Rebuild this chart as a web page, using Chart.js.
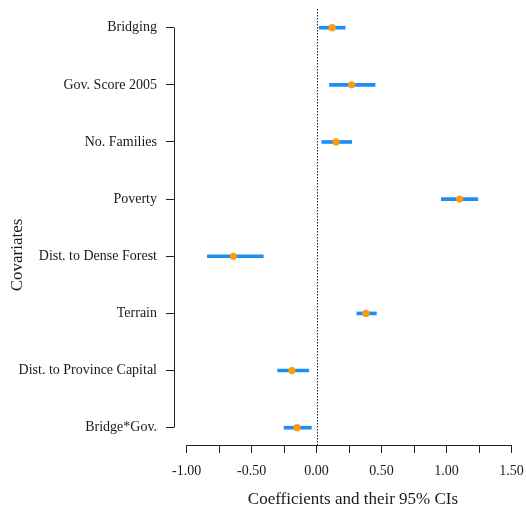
<!DOCTYPE html>
<html>
<head>
<meta charset="utf-8">
<script src="https://cdn.jsdelivr.net/npm/chart.js@4"></script>
<style>
  html, body { margin: 0; padding: 0; background: #fff; }
  #wrap { width: 526px; height: 514px; }
</style>
</head>
<body>
<div id="wrap"><canvas id="c" width="526" height="514"></canvas></div>
<script>
// Covariates, top to bottom
const covariates = ['Bridging', 'Gov. Score 2005', 'No. Families', 'Poverty',
  'Dist. to Dense Forest', 'Terrain', 'Dist. to Province Capital', 'Bridge*Gov.'];
// Point estimates and 95% confidence bounds
const estimates = [0.12, 0.27, 0.15, 1.10, -0.64, 0.38, -0.19, -0.15];
const lowerCI   = [0.02, 0.10, 0.04, 0.96, -0.84, 0.31, -0.30, -0.25];
const upperCI   = [0.22, 0.45, 0.27, 1.24, -0.41, 0.46, -0.06, -0.04];
// Coefficient axis ticks (labelled every 0.5)
const xTicks = [-1, -0.75, -0.5, -0.25, 0, 0.25, 0.5, 0.75, 1, 1.25, 1.5];

const SERIF = "'Liberation Serif', 'Times New Roman', serif";
const INK = '#1a1a1a';

const rows = covariates.map((_, i) => i + 1);

// R-style axes: lines run only between the first and last ticks,
// plus a dotted reference line at zero and the axis titles.
const rAxes = {
  id: 'rAxes',
  beforeDatasetsDraw(chart) {
    const { ctx, chartArea, scales } = chart;
    const x0 = scales.x.getPixelForValue(0);
    ctx.save();
    ctx.strokeStyle = '#222';
    ctx.lineWidth = 1;
    ctx.setLineDash([1.5, 1.5]);
    ctx.beginPath();
    ctx.moveTo(Math.round(x0) + 0.5, chartArea.top);
    ctx.lineTo(Math.round(x0) + 0.5, chartArea.bottom);
    ctx.stroke();
    ctx.restore();
  },
  afterDraw(chart) {
    const { ctx, chartArea, scales } = chart;
    ctx.save();
    ctx.strokeStyle = '#222';
    ctx.lineWidth = 1;
    ctx.beginPath();
    const yl = Math.round(chartArea.left) + 0.5;
    ctx.moveTo(yl, scales.y.getPixelForValue(rows[0]));
    ctx.lineTo(yl, scales.y.getPixelForValue(rows[rows.length - 1]));
    const xb = Math.round(chartArea.bottom) + 0.5;
    ctx.moveTo(scales.x.getPixelForValue(xTicks[0]), xb);
    ctx.lineTo(scales.x.getPixelForValue(xTicks[xTicks.length - 1]), xb);
    ctx.stroke();

    ctx.fillStyle = INK;
    ctx.font = '17px ' + SERIF;
    ctx.textAlign = 'center';
    ctx.textBaseline = 'middle';
    ctx.fillText('Coefficients and their 95% CIs', 353, 500);
    ctx.translate(17.5, 255);
    ctx.rotate(-Math.PI / 2);
    ctx.fillText('Covariates', 0, 0);
    ctx.restore();
  }
};

new Chart(document.getElementById('c'), {
  type: 'bar',
  data: {
    datasets: [
      {
        type: 'bar',
        label: '95% CI',
        data: rows.map((r, i) => ({ x: [lowerCI[i], upperCI[i]], y: r })),
        backgroundColor: '#1e8ef5',
        borderWidth: 0,
        barThickness: 3,
        order: 2
      },
      {
        type: 'scatter',
        label: 'Estimate',
        data: rows.map((r, i) => ({ x: estimates[i], y: r })),
        backgroundColor: '#ff9a0a',
        borderColor: '#ff9a0a',
        pointRadius: 3.6,
        pointBorderWidth: 0,
        order: 1
      }
    ]
  },
  options: {
    indexAxis: 'y',
    responsive: false,
    animation: false,
    layout: { padding: { top: 9, left: 0, right: 0, bottom: 0 } },
    plugins: { legend: { display: false }, tooltip: { enabled: false } },
    scales: {
      x: {
        type: 'linear',
        position: 'bottom',
        min: -1.0966,
        max: 1.58,
        offset: false,
        afterBuildTicks(scale) { scale.ticks = xTicks.map(v => ({ value: v })); },
        afterFit(scale) {
          scale.height = 69;
          scale.paddingLeft = 0;
          scale.paddingRight = 0;
        },
        ticks: {
          autoSkip: false,
          maxRotation: 0,
          padding: 10,
          color: INK,
          font: { family: SERIF, size: 14 },
          callback: v => (Math.abs(v * 2 - Math.round(v * 2)) < 1e-9 ? v.toFixed(2) : '')
        },
        grid: { offset: false, drawOnChartArea: false, drawTicks: true, tickLength: 8, color: '#222', lineWidth: 1 },
        border: { display: false }
      },
      y: {
        type: 'linear',
        position: 'left',
        reverse: true,
        min: 0.673,
        max: 8.303,
        offset: false,
        afterBuildTicks(scale) { scale.ticks = rows.map(v => ({ value: v })); },
        afterFit(scale) {
          scale.width = 174;
          scale.paddingTop = 0;
          scale.paddingBottom = 0;
        },
        ticks: {
          autoSkip: false,
          padding: 9,
          color: INK,
          font: { family: SERIF, size: 14 },
          callback: v => covariates[v - 1] || ''
        },
        grid: { offset: false, drawOnChartArea: false, drawTicks: true, tickLength: 8, color: '#222', lineWidth: 1 },
        border: { display: false }
      }
    }
  },
  plugins: [rAxes]
});
</script>
</body>
</html>
